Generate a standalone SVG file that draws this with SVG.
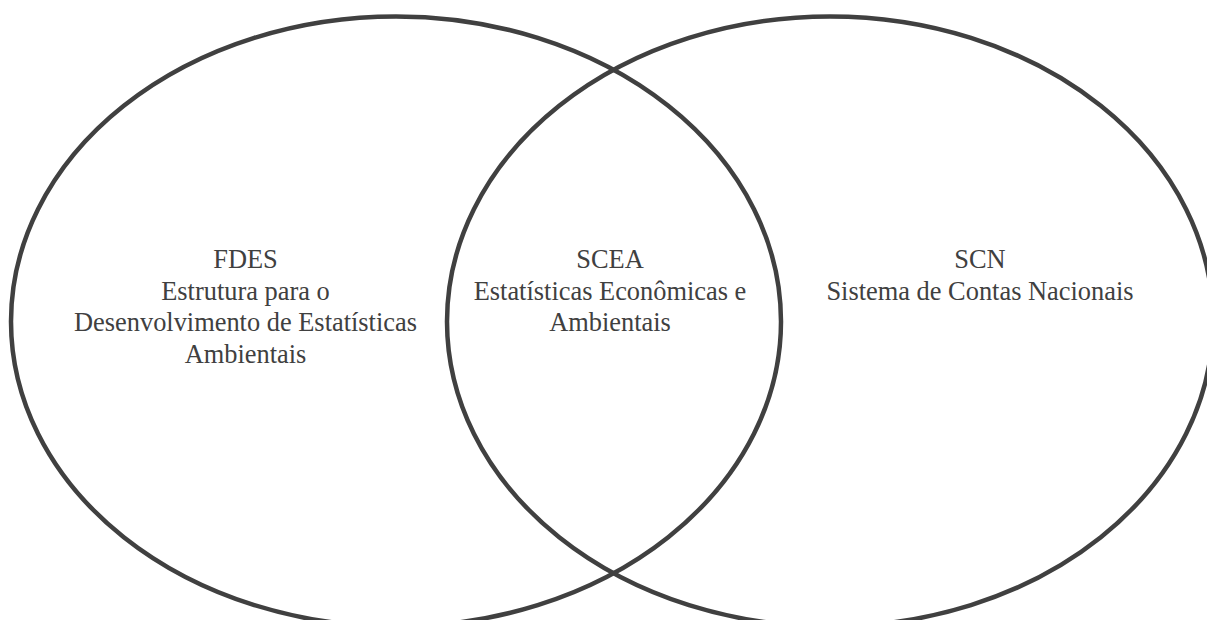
<svg xmlns="http://www.w3.org/2000/svg" width="1207" height="620" viewBox="0 0 1207 620">
<style>
.shape{fill:none;stroke:#404040;stroke-width:4.5}
.lbl{font-family:"Liberation Serif","Times New Roman",serif;font-size:26.4px;fill:#404040;text-anchor:middle}
</style>
<rect width="1207" height="620" fill="#ffffff"/>
<g id="connectors"></g>
<g id="fdes">
<ellipse class="shape" cx="396" cy="321.5" rx="385" ry="305"/>
<text class="lbl" x="245.5" y="268">FDES</text>
<text class="lbl" x="245.5" y="299.5">Estrutura para o</text>
<text class="lbl" x="245.5" y="331">Desenvolvimento de Estatísticas</text>
<text class="lbl" x="245.5" y="362.5">Ambientais</text>
</g>
<g id="scn">
<ellipse class="shape" cx="830" cy="321.5" rx="383" ry="305"/>
<text class="lbl" x="980" y="268">SCN</text>
<text class="lbl" x="980" y="299.5">Sistema de Contas Nacionais</text>
</g>
<g id="scea">
<text class="lbl" x="610" y="268">SCEA</text>
<text class="lbl" x="610" y="299.5">Estatísticas Econômicas e</text>
<text class="lbl" x="610" y="331">Ambientais</text>
</g>
</svg>
